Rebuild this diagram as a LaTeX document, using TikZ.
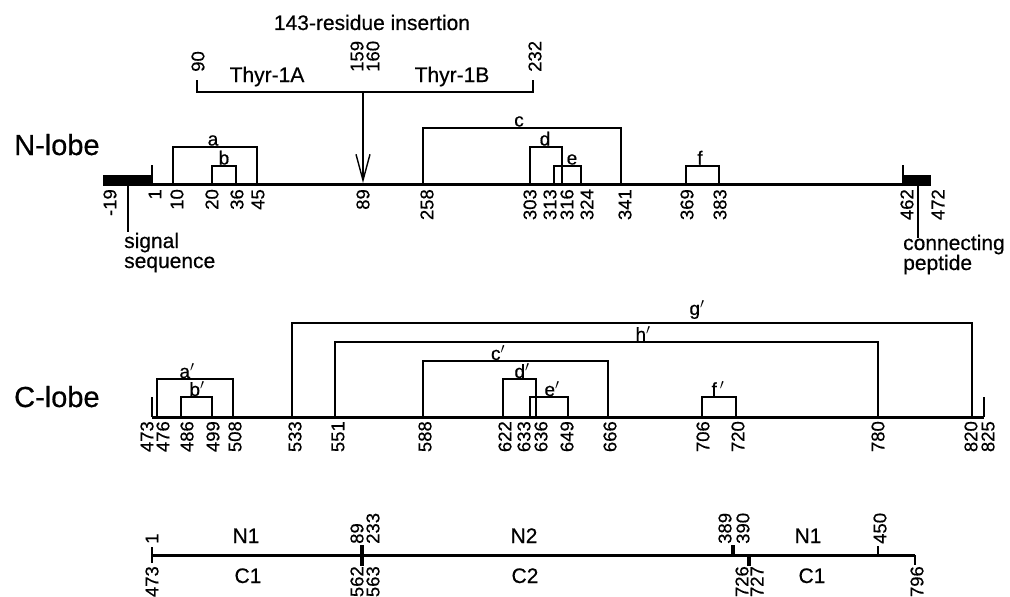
\documentclass[tikz,border=0pt]{standalone}
\usepackage{fontspec}
\setmainfont{Liberation Sans}[FakeBold=0.5]
\usetikzlibrary{arrows.meta}
\begin{document}
\begin{tikzpicture}[x=1pt,y=-1pt,
  baseln/.style={line width=3pt},
  brk/.style={line width=2.2pt},
  thinln/.style={line width=1.2pt},
  num/.style={font=\fontsize{18.5}{18.5}\selectfont, inner sep=0pt, rotate=90},
  numdn/.style={num, anchor=east},
  numup/.style={num, anchor=west},
  lbl/.style={font=\fontsize{19}{19}\selectfont, inner sep=0pt, anchor=base},
  txt/.style={font=\fontsize{21}{21}\selectfont, inner sep=0pt, anchor=base},
  txtw/.style={font=\fontsize{21}{21}\selectfont, inner sep=0pt, anchor=base west},
  big/.style={font=\fontsize{29}{29}\selectfont, inner sep=0pt, anchor=base west},
]
\useasboundingbox (0,0) rectangle (1010,597);

% ---------- insertion ----------
\node[txt] (ins) at (372,30) {143-residue insertion};
\coordinate (i90) at (197,80);
\coordinate (i232) at (533,80);
\draw[brk] (i90) -- (197,92) -- (533,92) -- (i232);
\coordinate (arrs) at (363,92);
\coordinate (arre) at (363,183);
\draw[line width=1.3pt, -{Straight Barb[length=26pt,width=14pt,line width=1.4pt]}] (arrs) -- (arre);
\node[numup] (t90) at (198,72) {90};
\node[numup] (t159) at (357,72) {159};
\node[numup] (t160) at (373,72) {160};
\node[numup] (t232) at (535,72) {232};
\node[txt] (thA) at (267,82) {Thyr-1A};
\node[txt] (thB) at (452,82) {Thyr-1B};

% ---------- N-lobe ----------
\node[big] (nlobe) at (14,155) {N-lobe};
\draw[baseln] (152,184) -- (903,184);
\fill (103,175) rectangle (152,186);
\draw[brk] (152,186) -- (152,165);
\fill (903,175) rectangle (931,186);
\draw[brk] (903,186) -- (903,165);
\coordinate (sigtop) at (128,186);
\coordinate (sigbot) at (128,232);
\draw[thinln] (sigtop) -- (sigbot);
\node[txtw] (sig1) at (124,248) {signal};
\node[txtw] (sig2) at (124,268) {sequence};
\coordinate (contop) at (918,186);
\coordinate (conbot) at (918,238);
\draw[thinln] (contop) -- (conbot);
\node[txtw] (con1) at (903,250) {connecting};
\node[txtw] (con2) at (903,270) {peptide};

% brackets N: x1, x2, top, label x, label
\foreach \xa/\xb/\yt/\lx/\lt in {173/257/147/213/a, 212/236/166/224/b, 423/621/128/519/c,
    530/562/147/545/d, 554/581/166/572/e, 686/719/166/700/f}{
  \draw[brk] (\xa,184) |- (\xb,\yt) -- (\xb,184);
  \node[lbl] (n\lt) at (\lx,\yt-1.5) {\lt};
}
\foreach \xx/\tt in {110/-19, 155/1, 177/10, 212/20, 237/36, 258/45, 363/89, 427/258,
    530/303, 550/313, 567/316, 587/324, 625/341, 687/369, 720/383, 907/462, 938/472}{
  \node[numdn] (nn\xx) at (\xx,189) {\tt};
}

% ---------- C-lobe ----------
\node[big] (clobe) at (14,407) {C-lobe};
\draw[baseln] (152,417) -- (984,417);
\draw[thinln] (152,417) -- (152,397);
\draw[thinln] (984,417) -- (984,397);
\foreach \xa/\xb/\yt/\lx/\ly/\lt/\nm in {157/233/379/187/378/{a$'$}/ca, 181/212/397/197/396/{b$'$}/cb,
    292/972/323/697/315/{g$'$}/cg, 335/878/342/643/341/{h$'$}/ch, 423/608/361/498/360/{c$'$}/cc,
    503/536/379/522/378/{d$'$}/cd, 530/568/397/552/396/{e$'$}/ce, 702/736/397/718/396/{f\,$'$}/cf}{
  \draw[brk] (\xa,417) |- (\xb,\yt) -- (\xb,417);
  \node[lbl] (\nm) at (\lx,\ly) {\lt};
}
\foreach \xx/\tt in {147/473, 163/476, 187/486, 213/499, 235/508, 295/533, 338/551, 425/588,
    505/622, 524/633, 541/636, 567/649, 610/666, 703/706, 738/720, 878/780, 971/820, 988/825}{
  \node[numdn] (cn\xx) at (\xx,421) {\tt};
}

% ---------- bottom map ----------
\draw[baseln] (152,555) -- (915,555);
\draw[brk] (152,547) -- (152,563);
\draw[line width=4pt] (362,545) -- (362,566);
\draw[line width=4pt] (733,545) -- (733,556);
\draw[line width=4pt] (749,554) -- (749,566);
\draw[thinln] (878,546) -- (878,555);
\draw[thinln] (915,555) -- (915,565);
\foreach \xx/\tt in {152/1, 357/89, 373/233, 725/389, 743/390, 880/450}{
  \node[numup] (bu\xx) at (\xx,544) {\tt};
}
\foreach \xx/\tt in {152/473, 357/562, 373/563, 742/726, 757/727, 917/796}{
  \node[numdn] (bd\xx) at (\xx,566) {\tt};
}
\node[txt] (bN1) at (246,543) {N1};
\node[txt] (bC1) at (248,583) {C1};
\node[txt] (bN2) at (524,543) {N2};
\node[txt] (bC2) at (525,583) {C2};
\node[txt] (bN1r) at (808,543) {N1};
\node[txt] (bC1r) at (812,583) {C1};
\end{tikzpicture}
\end{document}
